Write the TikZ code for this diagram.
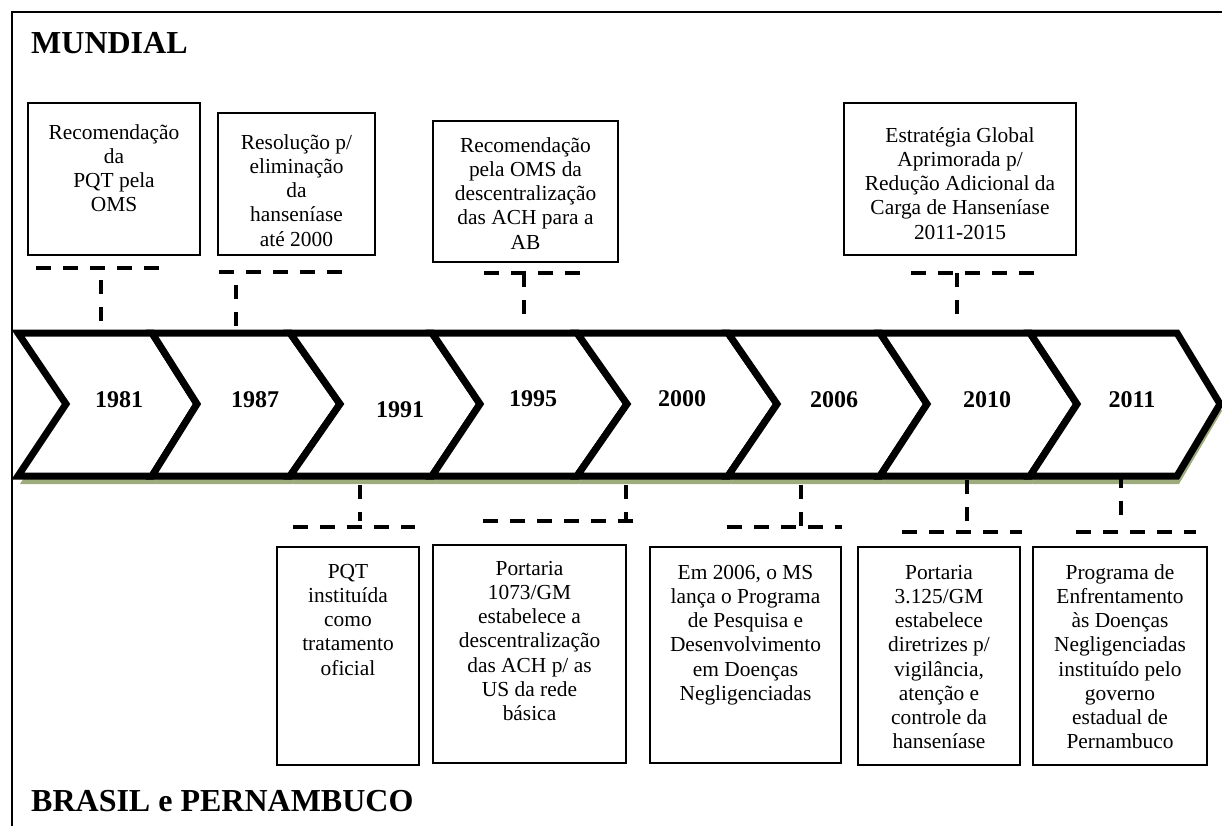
\documentclass[tikz,border=0pt]{standalone}
\usepackage{fontspec}
\setmainfont{Liberation Serif}
\definecolor{shadowgreen}{RGB}{158,172,125}
\newcommand\fstrut{\rule{0pt}{16pt}}
\tikzset{
  frameline/.style={line width=1.6pt},
  evbox/.style={draw, line width=1.5pt, inner sep=0pt},
  evtxt/.style={inner sep=0pt, align=center, anchor=north, font=\fontsize{21.4}{24.2}\selectfont},
  yr/.style={inner sep=0pt, font=\bfseries\fontsize{24}{27}\selectfont},
  head/.style={inner sep=0pt, anchor=base west, font=\bfseries\fontsize{32}{36}\selectfont},
  chev/.style={draw, fill=white, line width=7pt, line join=miter, miter limit=10},
  chevshadow/.style={fill=shadowgreen},
  conn/.style={line width=3.5pt, dash pattern=on 15pt off 12pt},
  connv/.style={line width=3.5pt, dash pattern=on 14pt off 13pt}
}
\begin{document}
\begin{tikzpicture}[x=1pt,y=-1pt]
\useasboundingbox (0,0) rectangle (1222,825);
% chevron shadows
\foreach \l/\r/\t/\n in {18/152/197/66,152/290/340/197,290/432/480/340,432/577/627/480,577/728/777/627,728/880/927/777,880/1030/1077/927,1030/1177/1220/1077}{
  \fill[chevshadow] (\l+2,340) -- (\r+2,340) -- (\t+2,411) -- (\r+2,484) -- (\l+2,484) -- (\n+2,411) -- cycle;
}
% chevrons
\foreach \l/\r/\t/\n in {18/152/197/66,152/290/340/197,290/432/480/340,432/577/627/480,577/728/777/627,728/880/927/777,880/1030/1077/927,1030/1177/1220/1077}{
  \draw[chev] (\l,333) -- (\r,333) -- (\t,404) -- (\r,476) -- (\l,476) -- (\n,404) -- cycle;
}
% frame
\draw[frameline] (12,830) -- (12,12) -- (1230,12);
% headings
\node[head] (mundial) at (31,53) {MUNDIAL};
\node[head] (brasil) at (31,811) {BRASIL e PERNAMBUCO};
% years
\node[yr] (y1981) at (119,400) {1981};
\node[yr] (y1987) at (255,400) {1987};
\node[yr] (y1991) at (400,410) {1991};
\node[yr] (y1995) at (533,399) {1995};
\node[yr] (y2000) at (682,399) {2000};
\node[yr] (y2006) at (834,400) {2006};
\node[yr] (y2010) at (987,400) {2010};
\node[yr] (y2011) at (1132,400) {2011};
% top boxes
\node[evbox, minimum width=172pt, minimum height=152pt] (bA) at (114,179) {};
\node[evtxt] (tA) at (114,123) {\fstrut Recomendação\\da\\PQT pela\\OMS};
\node[evbox, minimum width=157pt, minimum height=142pt] (bB) at (296.5,184) {};
\node[evtxt] (tB) at (296.5,133) {\fstrut Resolução p/\\eliminação\\da\\hanseníase\\até 2000};
\node[evbox, minimum width=185pt, minimum height=141pt] (bC) at (525.5,191.5) {};
\node[evtxt] (tC) at (525.5,136) {\fstrut Recomendação\\pela OMS da\\descentralização\\das ACH para a\\AB};
\node[evbox, minimum width=232pt, minimum height=152pt] (bD) at (960,179) {};
\node[evtxt] (tD) at (960,126) {\fstrut Estratégia Global\\Aprimorada p/\\Redução Adicional da\\Carga de Hanseníase\\2011-2015};
% bottom boxes
\node[evbox, minimum width=142pt, minimum height=218pt] (bE) at (348,656) {};
\node[evtxt] (tE) at (348,562) {\fstrut PQT\\instituída\\como\\tratamento\\oficial};
\node[evbox, minimum width=193pt, minimum height=218pt] (bF) at (529.5,654) {};
\node[evtxt] (tF) at (529.5,559) {\fstrut Portaria\\1073/GM\\estabelece a\\descentralização\\das ACH p/ as\\US da rede\\básica};
\node[evbox, minimum width=191pt, minimum height=216pt] (bG) at (745.5,655) {};
\node[evtxt] (tG) at (745.5,563) {\fstrut Em 2006, o MS\\lança o Programa\\de Pesquisa e\\Desenvolvimento\\em Doenças\\Negligenciadas};
\node[evbox, minimum width=162pt, minimum height=218pt] (bH) at (939,656) {};
\node[evtxt] (tH) at (939,563) {\fstrut Portaria\\3.125/GM\\estabelece\\diretrizes p/\\vigilância,\\atenção e\\controle da\\hanseníase};
\node[evbox, minimum width=174pt, minimum height=218pt] (bI) at (1120,656) {};
\node[evtxt] (tI) at (1120,563) {\fstrut Programa de\\Enfrentamento\\às Doenças\\Negligenciadas\\instituído pelo\\governo\\estadual de\\Pernambuco};
% top connectors
\coordinate (rA1) at (36,268);  \coordinate (rA2) at (165,268);
\coordinate (vA1) at (101,280); \coordinate (vA2) at (101,326);
\coordinate (rB1) at (219,272); \coordinate (rB2) at (350,272);
\coordinate (vB1) at (236,285); \coordinate (vB2) at (236,326);
\coordinate (rC1) at (484,273); \coordinate (rC2) at (587,273);
\coordinate (vC1) at (524,273); \coordinate (vC2) at (524,318);
\coordinate (rD1) at (911,273); \coordinate (rD2) at (1038,273);
\coordinate (vD1) at (957,273); \coordinate (vD2) at (957,318);
\draw[conn] (rA1) -- (rA2); \draw[connv] (vA1) -- (vA2);
\draw[conn] (rB1) -- (rB2); \draw[connv] (vB1) -- (vB2);
\draw[conn] (rC1) -- (rC2); \draw[connv] (vC1) -- (vC2);
\draw[conn] (rD1) -- (rD2); \draw[connv] (vD1) -- (vD2);
% bottom connectors
\coordinate (rE1) at (293,527);  \coordinate (rE2) at (415,527);
\coordinate (vE1) at (360,485);  \coordinate (vE2) at (360,521);
\coordinate (rF1) at (483,521);  \coordinate (rF2) at (638,521);
\coordinate (vF1) at (626,485);  \coordinate (vF2) at (626,521);
\coordinate (rG1) at (727,527);  \coordinate (rG2) at (842,527);
\coordinate (vG1) at (801,485);  \coordinate (vG2) at (801,527);
\coordinate (rH1) at (902,532);  \coordinate (rH2) at (1022,532);
\coordinate (vH1) at (967,480);  \coordinate (vH2) at (967,532);
\coordinate (rI1) at (1076,532); \coordinate (rI2) at (1196,532);
\coordinate (vI1) at (1121,474); \coordinate (vI2) at (1121,516);
\draw[conn] (rE1) -- (rE2); \draw[connv] (vE1) -- (vE2);
\draw[conn] (rF1) -- (rF2); \draw[connv] (vF1) -- (vF2);
\draw[conn] (rG1) -- (rG2); \draw[connv] (vG1) -- (vG2);
\draw[conn] (rH1) -- (rH2); \draw[connv] (vH1) -- (vH2);
\draw[conn] (rI1) -- (rI2); \draw[connv] (vI1) -- (vI2);
\end{tikzpicture}
\end{document}
